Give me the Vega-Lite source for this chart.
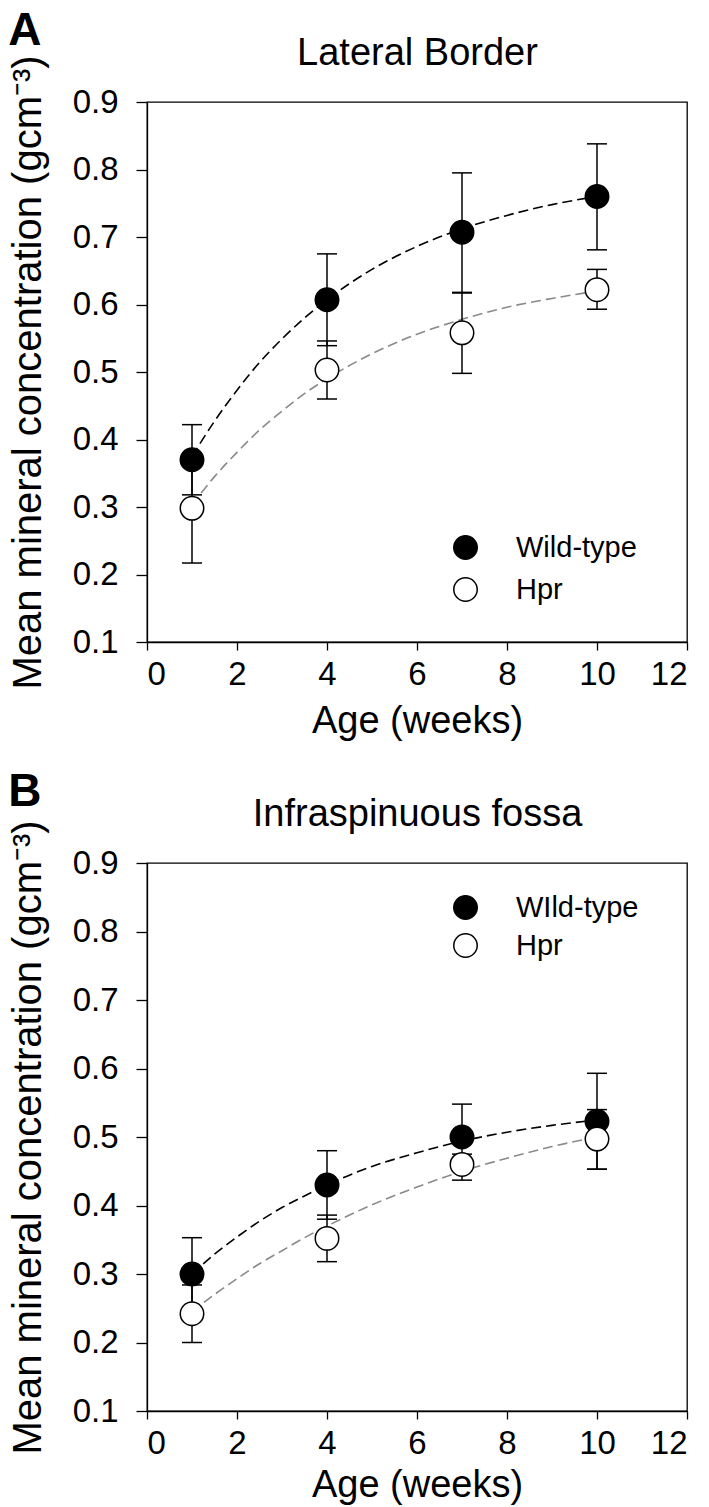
{
  "$schema": "https://vega.github.io/schema/vega-lite/v6.json",
  "background": "white",
  "padding": {"left": 7, "top": 7, "right": 5, "bottom": 0},
  "config": {
    "font": "Liberation Sans",
    "view": {"stroke": "black", "strokeWidth": 1.3},
    "axis": {
      "grid": false,
      "domainColor": "black",
      "domainWidth": 1.3,
      "tickColor": "black",
      "tickWidth": 1.3,
      "labelColor": "black",
      "titleColor": "black",
      "labelFont": "Liberation Sans",
      "titleFont": "Liberation Sans",
      "labelFontSize": 33,
      "titleFontSize": 38,
      "titleFontWeight": "normal"
    },
    "title": {"color": "black", "font": "Liberation Sans"},
    "legend": {"labelFont": "Liberation Sans", "labelColor": "black"}
  },
  "datasets": {
    "a_points": [
      {"week": 1, "group": "Wild-type", "mean": 0.370, "lo": 0.318, "hi": 0.422},
      {"week": 4, "group": "Wild-type", "mean": 0.607, "lo": 0.539, "hi": 0.675},
      {"week": 7, "group": "Wild-type", "mean": 0.707, "lo": 0.618, "hi": 0.795},
      {"week": 10, "group": "Wild-type", "mean": 0.760, "lo": 0.681, "hi": 0.838},
      {"week": 1, "group": "Hpr", "mean": 0.298, "lo": 0.217, "hi": 0.378},
      {"week": 4, "group": "Hpr", "mean": 0.503, "lo": 0.460, "hi": 0.546},
      {"week": 7, "group": "Hpr", "mean": 0.558, "lo": 0.498, "hi": 0.617},
      {"week": 10, "group": "Hpr", "mean": 0.622, "lo": 0.593, "hi": 0.652}
    ],
    "a_curve": [
      {"week": 1, "group": "Wild-type", "value": 0.375},
      {"week": 1.5, "group": "Wild-type", "value": 0.427},
      {"week": 2, "group": "Wild-type", "value": 0.473},
      {"week": 2.5, "group": "Wild-type", "value": 0.514},
      {"week": 3, "group": "Wild-type", "value": 0.549},
      {"week": 3.5, "group": "Wild-type", "value": 0.580},
      {"week": 4, "group": "Wild-type", "value": 0.607},
      {"week": 5, "group": "Wild-type", "value": 0.652},
      {"week": 6, "group": "Wild-type", "value": 0.686},
      {"week": 7, "group": "Wild-type", "value": 0.712},
      {"week": 8, "group": "Wild-type", "value": 0.732},
      {"week": 9, "group": "Wild-type", "value": 0.748},
      {"week": 10, "group": "Wild-type", "value": 0.760},
      {"week": 1, "group": "Hpr", "value": 0.303},
      {"week": 1.5, "group": "Hpr", "value": 0.345},
      {"week": 2, "group": "Hpr", "value": 0.381},
      {"week": 2.5, "group": "Hpr", "value": 0.414},
      {"week": 3, "group": "Hpr", "value": 0.442},
      {"week": 3.5, "group": "Hpr", "value": 0.468},
      {"week": 4, "group": "Hpr", "value": 0.490},
      {"week": 5, "group": "Hpr", "value": 0.527},
      {"week": 6, "group": "Hpr", "value": 0.556},
      {"week": 7, "group": "Hpr", "value": 0.578},
      {"week": 8, "group": "Hpr", "value": 0.596},
      {"week": 9, "group": "Hpr", "value": 0.609},
      {"week": 10, "group": "Hpr", "value": 0.620}
    ],
    "b_points": [
      {"week": 1, "group": "WIld-type", "mean": 0.300, "lo": 0.247, "hi": 0.353},
      {"week": 4, "group": "WIld-type", "mean": 0.430, "lo": 0.380, "hi": 0.480},
      {"week": 7, "group": "WIld-type", "mean": 0.500, "lo": 0.452, "hi": 0.548},
      {"week": 10, "group": "WIld-type", "mean": 0.523, "lo": 0.453, "hi": 0.593},
      {"week": 1, "group": "Hpr", "mean": 0.242, "lo": 0.200, "hi": 0.284},
      {"week": 4, "group": "Hpr", "mean": 0.352, "lo": 0.318, "hi": 0.386},
      {"week": 7, "group": "Hpr", "mean": 0.460, "lo": 0.437, "hi": 0.475},
      {"week": 10, "group": "Hpr", "mean": 0.497, "lo": 0.453, "hi": 0.540}
    ],
    "b_curve": [
      {"week": 1, "group": "WIld-type", "value": 0.300},
      {"week": 1.5, "group": "WIld-type", "value": 0.329},
      {"week": 2, "group": "WIld-type", "value": 0.354},
      {"week": 2.5, "group": "WIld-type", "value": 0.377},
      {"week": 3, "group": "WIld-type", "value": 0.397},
      {"week": 3.5, "group": "WIld-type", "value": 0.414},
      {"week": 4, "group": "WIld-type", "value": 0.430},
      {"week": 5, "group": "WIld-type", "value": 0.457},
      {"week": 6, "group": "WIld-type", "value": 0.477},
      {"week": 7, "group": "WIld-type", "value": 0.494},
      {"week": 8, "group": "WIld-type", "value": 0.507},
      {"week": 9, "group": "WIld-type", "value": 0.517},
      {"week": 10, "group": "WIld-type", "value": 0.525},
      {"week": 1, "group": "Hpr", "value": 0.245},
      {"week": 1.5, "group": "Hpr", "value": 0.270},
      {"week": 2, "group": "Hpr", "value": 0.293},
      {"week": 2.5, "group": "Hpr", "value": 0.315},
      {"week": 3, "group": "Hpr", "value": 0.334},
      {"week": 3.5, "group": "Hpr", "value": 0.353},
      {"week": 4, "group": "Hpr", "value": 0.370},
      {"week": 5, "group": "Hpr", "value": 0.401},
      {"week": 6, "group": "Hpr", "value": 0.427},
      {"week": 7, "group": "Hpr", "value": 0.450},
      {"week": 8, "group": "Hpr", "value": 0.469},
      {"week": 9, "group": "Hpr", "value": 0.486},
      {"week": 10, "group": "Hpr", "value": 0.500}
    ]
  },
  "spacing": 27,
  "resolve": {
    "scale": {"x": "independent", "y": "independent", "fill": "independent", "stroke": "independent"},
    "legend": {"fill": "independent"}
  },
  "vconcat": [
    {
      "width": 540,
      "height": 540,
      "title": {"text": "A", "anchor": "start", "frame": "bounds", "fontSize": 46, "fontWeight": "bold", "offset": -21},
      "data": {"name": "a_points"},
      "resolve": {"axis": {"x": "independent", "y": "independent"}},
      "layer": [
        {
          "mark": {"type": "point", "opacity": 0},
          "encoding": {
            "x": {"field": "week", "type": "quantitative", "scale": {"domain": [0, 12]},
                  "axis": {"orient": "top", "title": "Lateral Border", "labels": false, "ticks": false, "domain": false, "titlePadding": 30}},
            "y": {"field": "mean", "type": "quantitative", "scale": {"domain": [0.1, 0.9]},
                  "axis": {"values": [0.1, 0.2, 0.3, 0.4, 0.5, 0.6, 0.7, 0.8, 0.9], "format": ".1f", "tickSize": 11, "labelPadding": 18, "titlePadding": 24,
                           "titleFontSize": 40, "title": "Mean mineral concentration (gcm⁻³)"}}
          }
        },
        {
          "data": {"name": "a_curve"},
          "mark": {"type": "line", "strokeDash": [10, 5], "strokeWidth": 1.6, "interpolate": "monotone"},
          "encoding": {
            "x": {"field": "week", "type": "quantitative", "scale": {"domain": [0, 12]},
                  "axis": {"values": [0, 2, 4, 6, 8, 10, 12], "tickSize": 8, "labelPadding": 8, "title": "Age (weeks)", "titlePadding": 11}},
            "y": {"field": "value", "type": "quantitative", "axis": null},
            "stroke": {"field": "group", "type": "nominal", "scale": {"domain": ["Hpr", "Wild-type"], "range": ["#8a8a8a", "black"]}, "legend": null}
          }
        },
        {
          "mark": {"type": "rule", "color": "black", "strokeWidth": 1.5},
          "encoding": {
            "x": {"field": "week", "type": "quantitative", "axis": null},
            "y": {"field": "lo", "type": "quantitative", "axis": null},
            "y2": {"field": "hi"}
          }
        },
        {
          "mark": {"type": "tick", "orient": "horizontal", "size": 20, "thickness": 1.5, "color": "black", "opacity": 1},
          "encoding": {
            "x": {"field": "week", "type": "quantitative", "axis": null},
            "y": {"field": "lo", "type": "quantitative", "axis": null}
          }
        },
        {
          "mark": {"type": "tick", "orient": "horizontal", "size": 20, "thickness": 1.5, "color": "black", "opacity": 1},
          "encoding": {
            "x": {"field": "week", "type": "quantitative", "axis": null},
            "y": {"field": "hi", "type": "quantitative", "axis": null}
          }
        },
        {
          "mark": {"type": "point", "shape": "circle", "filled": true, "size": 550, "stroke": "black", "strokeWidth": 1.5, "opacity": 1},
          "encoding": {
            "x": {"field": "week", "type": "quantitative", "axis": null},
            "y": {"field": "mean", "type": "quantitative", "axis": null},
            "fill": {"field": "group", "type": "nominal", "scale": {"domain": ["Wild-type", "Hpr"], "range": ["black", "white"]},
                     "legend": {"orient": "none", "legendX": 304, "legendY": 431, "title": null, "symbolType": "circle", "symbolSize": 550,
                                "symbolStrokeColor": "black", "symbolStrokeWidth": 1.5, "symbolOpacity": 1, "labelFontSize": 29, "labelOffset": 36,
                                "rowPadding": 11, "padding": 0}}
          }
        }
      ]
    },
    {
      "width": 540,
      "height": 548,
      "title": {"text": "B", "anchor": "start", "frame": "bounds", "fontSize": 46, "fontWeight": "bold", "offset": -21},
      "data": {"name": "b_points"},
      "resolve": {"axis": {"x": "independent", "y": "independent"}},
      "layer": [
        {
          "mark": {"type": "point", "opacity": 0},
          "encoding": {
            "x": {"field": "week", "type": "quantitative", "scale": {"domain": [0, 12]},
                  "axis": {"orient": "top", "title": "Infraspinuous fossa", "labels": false, "ticks": false, "domain": false, "titlePadding": 30}},
            "y": {"field": "mean", "type": "quantitative", "scale": {"domain": [0.1, 0.9]},
                  "axis": {"values": [0.1, 0.2, 0.3, 0.4, 0.5, 0.6, 0.7, 0.8, 0.9], "format": ".1f", "tickSize": 11, "labelPadding": 18, "titlePadding": 24,
                           "titleFontSize": 40, "title": "Mean mineral concentration (gcm⁻³)"}}
          }
        },
        {
          "data": {"name": "b_curve"},
          "mark": {"type": "line", "strokeDash": [10, 5], "strokeWidth": 1.6, "interpolate": "monotone"},
          "encoding": {
            "x": {"field": "week", "type": "quantitative", "scale": {"domain": [0, 12]},
                  "axis": {"values": [0, 2, 4, 6, 8, 10, 12], "tickSize": 8, "labelPadding": 8, "title": "Age (weeks)", "titlePadding": 6}},
            "y": {"field": "value", "type": "quantitative", "axis": null},
            "stroke": {"field": "group", "type": "nominal", "scale": {"domain": ["Hpr", "WIld-type"], "range": ["#8a8a8a", "black"]}, "legend": null}
          }
        },
        {
          "mark": {"type": "rule", "color": "black", "strokeWidth": 1.5},
          "encoding": {
            "x": {"field": "week", "type": "quantitative", "axis": null},
            "y": {"field": "lo", "type": "quantitative", "axis": null},
            "y2": {"field": "hi"}
          }
        },
        {
          "mark": {"type": "tick", "orient": "horizontal", "size": 20, "thickness": 1.5, "color": "black", "opacity": 1},
          "encoding": {
            "x": {"field": "week", "type": "quantitative", "axis": null},
            "y": {"field": "lo", "type": "quantitative", "axis": null}
          }
        },
        {
          "mark": {"type": "tick", "orient": "horizontal", "size": 20, "thickness": 1.5, "color": "black", "opacity": 1},
          "encoding": {
            "x": {"field": "week", "type": "quantitative", "axis": null},
            "y": {"field": "hi", "type": "quantitative", "axis": null}
          }
        },
        {
          "mark": {"type": "point", "shape": "circle", "filled": true, "size": 550, "stroke": "black", "strokeWidth": 1.5, "opacity": 1},
          "encoding": {
            "x": {"field": "week", "type": "quantitative", "axis": null},
            "y": {"field": "mean", "type": "quantitative", "axis": null},
            "fill": {"field": "group", "type": "nominal", "scale": {"domain": ["WIld-type", "Hpr"], "range": ["black", "white"]},
                     "legend": {"orient": "none", "legendX": 304, "legendY": 30, "title": null, "symbolType": "circle", "symbolSize": 550,
                                "symbolStrokeColor": "black", "symbolStrokeWidth": 1.5, "symbolOpacity": 1, "labelFontSize": 29, "labelOffset": 36,
                                "rowPadding": 7, "padding": 0}}
          }
        }
      ]
    }
  ]
}
